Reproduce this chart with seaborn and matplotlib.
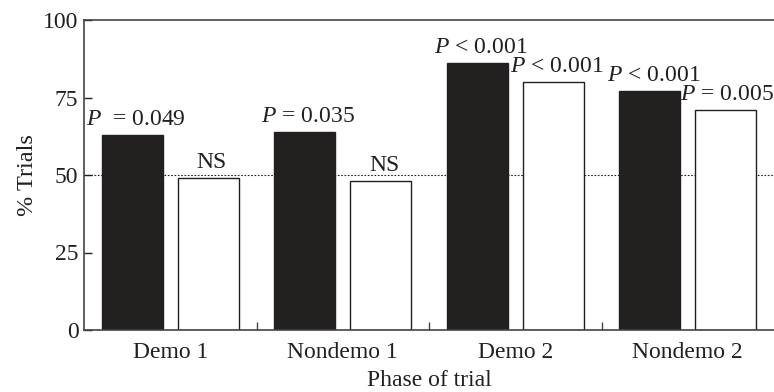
import matplotlib
matplotlib.use("Agg")
import matplotlib.pyplot as plt
import matplotlib.transforms as mtransforms
import seaborn as sns
import pandas as pd
from matplotlib.ticker import FixedLocator

phases = ["Demo 1", "Nondemo 1", "Demo 2", "Nondemo 2"]
series_names = ["Condition A", "Condition B"]
values_a = [63, 64, 86, 77]
values_b = [49, 48, 80, 71]
labels_a = ["$P$  = 0.049", "$P$ = 0.035", "$P$ < 0.001", "$P$ < 0.001"]
labels_b = ["NS", "NS", "$P$ < 0.001", "$P$ = 0.005"]
yticks = [0, 25, 50, 75, 100]

FS = 17

sns.set_theme(style="white")
plt.rcParams["font.family"] = ["Liberation Serif", "DejaVu Serif"]
plt.rcParams["mathtext.fontset"] = "custom"
plt.rcParams["mathtext.rm"] = "Liberation Serif"
plt.rcParams["mathtext.it"] = "Liberation Serif:italic"

df = pd.DataFrame({
    "phase": phases * 2,
    "series": [series_names[0]] * 4 + [series_names[1]] * 4,
    "value": values_a + values_b,
})

fig = plt.figure(figsize=(7.74, 3.92), dpi=100)
ax = fig.add_axes([84 / 774, 62 / 392, 1 - 84 / 774, 310 / 392])

sns.barplot(data=df, x="phase", y="value", hue="series", order=phases,
            hue_order=series_names, palette=["#231f20", "white"],
            width=0.88, gap=0.2, edgecolor="#231f20", linewidth=1.0,
            legend=False, ax=ax, zorder=2)

ax.axhline(50, color="#231f20", lw=0.8, ls=(0, (1.5, 1.5)), zorder=1)

texts = []
for cont, labs in zip(ax.containers, [labels_a, labels_b]):
    for bar, lab in zip(cont, labs):
        cx = bar.get_x() + bar.get_width() / 2
        top = bar.get_height()
        t = ax.text(cx + 0.02, top + 3.2, lab, ha="center", va="baseline",
                    fontsize=FS, color="#231f20", clip_on=False, zorder=3)
        texts.append(t)

ax.set_xlim(-0.5, 3.5)
ax.set_ylim(0, 100)
ax.set_yticks(yticks)
ax.set_yticklabels([str(t) for t in yticks])
ax.xaxis.set_minor_locator(FixedLocator([0.5, 1.5, 2.5]))
ax.tick_params(axis="x", which="major", length=0, labelsize=FS, pad=9,
               colors="#231f20")
ax.tick_params(axis="x", which="minor", direction="in", length=6, width=1,
               color="#444444", bottom=True)
ax.tick_params(axis="y", direction="in", length=6, width=1, labelsize=FS,
               pad=4, colors="#231f20", left=True)
for s in ["left", "bottom", "top"]:
    ax.spines[s].set_visible(True)
    ax.spines[s].set_color("#444444")
    ax.spines[s].set_linewidth(1.2)
ax.spines["right"].set_visible(False)

ax.set_xlabel("Phase of trial", fontsize=FS, color="#231f20", labelpad=4.5)
ax.set_ylabel("% Trials", fontsize=FS + 0.5, color="#231f20", labelpad=4)

# keep annotation texts inside the figure
fig.canvas.draw()
renderer = fig.canvas.get_renderer()
fig_w = fig.bbox.width
for t in texts:
    bb = t.get_window_extent(renderer)
    if bb.x1 > fig_w - 0.5:
        dx = -(bb.x1 - (fig_w - 0.5)) / fig.dpi
        t.set_transform(t.get_transform() +
                        mtransforms.ScaledTranslation(dx, 0, fig.dpi_scale_trans))

fig.savefig("out.png", dpi=100)
